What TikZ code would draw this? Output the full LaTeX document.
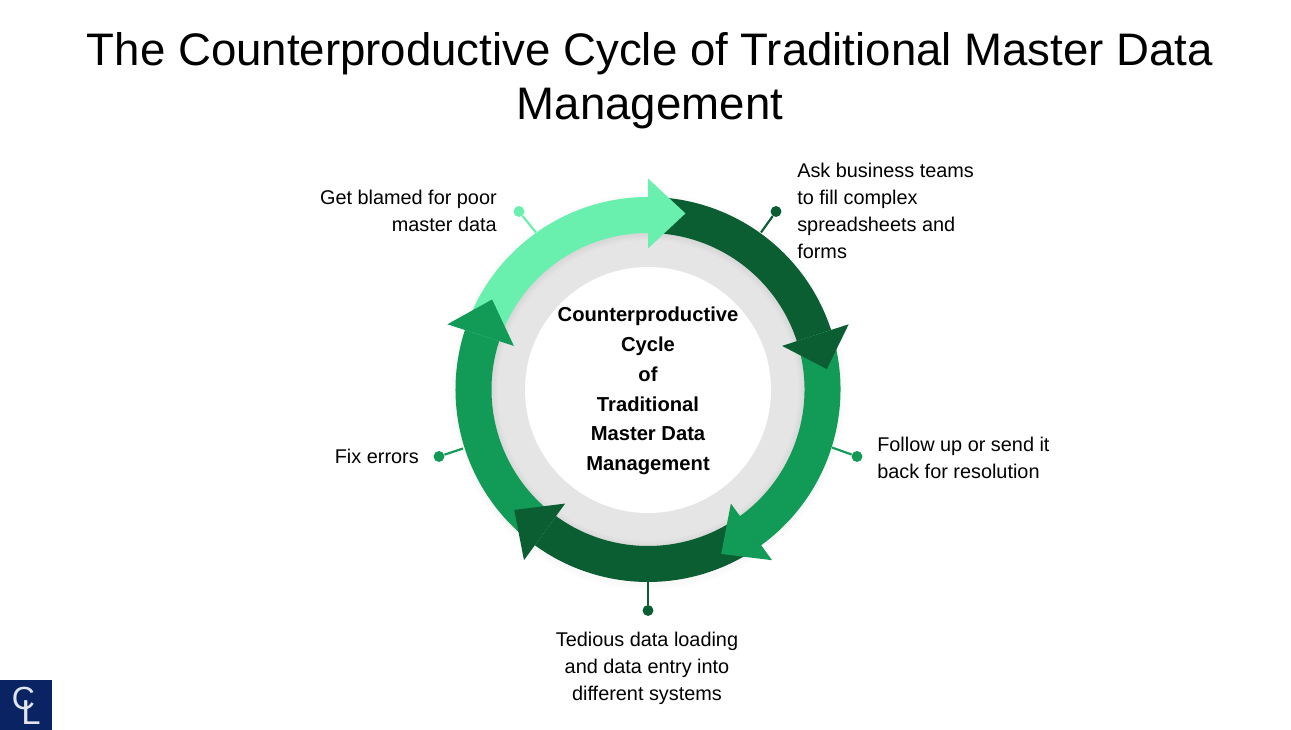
\documentclass[tikz,border=0pt]{standalone}
\usepackage{fontspec}
\setmainfont{Liberation Sans}
\definecolor{lightg}{HTML}{69F0AE}
\definecolor{darkg}{HTML}{0B5D32}
\definecolor{midg}{HTML}{129A57}
\definecolor{ringgray}{HTML}{E5E5E5}
\definecolor{navy}{HTML}{0A2463}
\newcommand{\ringbody}[3]{%
  \fill[#1] (#2:192.5) arc[start angle=#2,end angle=#3,radius=192.5]
    -- (#3:156.5) arc[start angle=#3,end angle=#2,radius=156.5] -- cycle;}
\newcommand{\ringhead}[3]{%
  \fill[#1] (#2:211) -- (#3:180) -- (#2:141) -- cycle;}
\tikzset{
  x=0.75pt,y=0.75pt,
  lbl/.style={inner sep=0pt,font=\fontsize{14.9pt}{20.25pt}\selectfont},
  ctr/.style={inner sep=0pt,align=center,font=\fontsize{15.15pt}{22.4pt}\selectfont\bfseries},
  ttl/.style={inner sep=0pt,align=center,font=\fontsize{34.2pt}{40.6pt}\selectfont},
  dotn/.style={circle,inner sep=0pt,minimum size=8.2pt,fill=#1},
  conn/.style={draw=#1,line width=1.6pt},
  logoc/.style={inner sep=0pt,text=white!88!navy,font=\fontsize{24pt}{24pt}\selectfont},
  logol/.style={inner sep=0pt,text=white!88!navy,font=\fontsize{26pt}{26pt}\selectfont}
}
\begin{document}
\begin{tikzpicture}
\useasboundingbox (0,0) rectangle (1291,730);
\fill[white] (0,0) rectangle (1291,730);
\node[ttl] (title) at (650,649) {The Counterproductive Cycle of Traditional Master Data\\Management};

\begin{scope}[shift={(648,340.5)}]
  % gray ring and centre
  \fill[ringgray] (0,0) circle[radius=160];
  \fill[white] (0,-0.5) circle[radius=123];
  % soft shadows
  \foreach \i in {0,...,6}{
    \draw[black,opacity=0.008,line width=0.75pt*(2*\i+1)] (0,-1) circle[radius=156.5];
    \draw[black,opacity=0.005,line width=0.75pt*(2*\i+1)] (0,-2) circle[radius=192.5];
  }
  % connector anchors
  \coordinate (a1) at (-112,157);
  \coordinate (a2) at (113,157);
  \coordinate (a3) at (184,-58);
  \coordinate (a4) at (0,-190);
  \coordinate (a5) at (-185,-59);
  \node[dotn=lightg] (d1) at (-129,178) {};
  \node[dotn=darkg]  (d2) at (128,178) {};
  \node[dotn=midg]   (d3) at (209,-67) {};
  \node[dotn=darkg]  (d4) at (0,-221) {};
  \node[dotn=midg]   (d5) at (-209,-67) {};
  \draw[conn=lightg] (d1) -- (a1);
  \draw[conn=darkg]  (d2) -- (a2);
  \draw[conn=midg]   (d3) -- (a3);
  \draw[conn=darkg]  (d4) -- (a4);
  \draw[conn=midg]   (d5) -- (a5);
  % arrow bodies
  \ringbody{lightg}{162}{90}
  \ringbody{darkg}{90}{18}
  \ringbody{midg}{18}{-54}
  \ringbody{darkg}{-54}{-126}
  \ringbody{midg}{-126}{-198}
  % arrow heads
  \ringhead{lightg}{90}{78}
  \ringhead{darkg}{18}{6.5}
  \ringhead{midg}{-54}{-66}
  \ringhead{darkg}{-126}{-138}
  \ringhead{midg}{162}{150}
\end{scope}

\node[ctr] (centre) at (648,339) {Counterproductive\\Cycle\\of\\Traditional\\Master Data\\Management};
\node[lbl,anchor=east,align=right] (l1) at (497,519) {Get blamed for poor\\master data};
\node[lbl,anchor=west,align=left] (l2) at (797,519) {Ask business teams\\to fill complex\\spreadsheets and\\forms};
\node[lbl,anchor=west,align=left] (l3) at (877,272) {Follow up or send it\\back for resolution};
\node[lbl,align=center] (l4) at (647,62) {Tedious data loading\\and data entry into\\different systems};
\node[lbl,anchor=east,align=right] (l5) at (419,274) {Fix errors};

\fill[navy] (0,0) rectangle (52,50);
\node[logoc] (logoc) at (23.5,31.5) {C};
\node[logol] (logol) at (31,17.5) {L};
\end{tikzpicture}
\end{document}
